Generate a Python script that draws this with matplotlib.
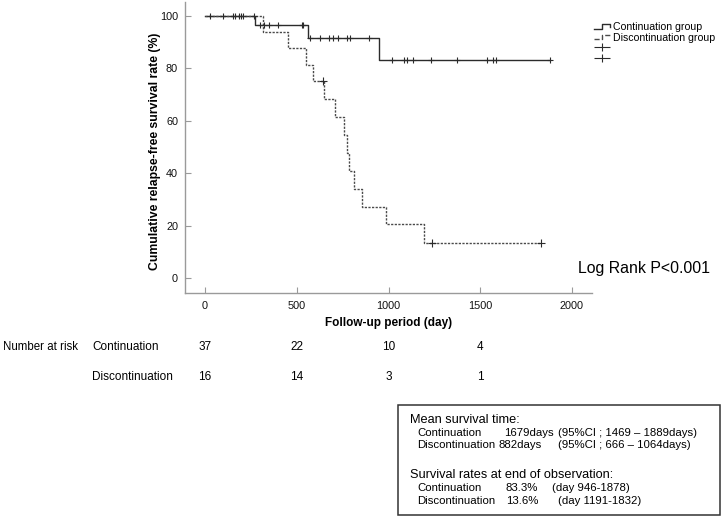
import numpy as np
import matplotlib
matplotlib.use('Agg')
import matplotlib.pyplot as plt
from matplotlib.lines import Line2D
from matplotlib.path import Path
from matplotlib.patches import Rectangle
from matplotlib.legend_handler import HandlerLine2D
from matplotlib.transforms import blended_transform_factory

plt.rcParams['font.family'] = ['Liberation Sans', 'DejaVu Sans']

# Kaplan-Meier steps (day, survival %)
contDays = [0, 274, 560, 946, 1878]
contSurv = [100, 96.6, 91.6, 83.3, 83.3]
discDays = [0, 318, 454, 549, 590, 650, 708, 760, 772, 787, 812, 857, 986, 1191, 1832]
discSurv = [100, 93.8, 87.5, 81.3, 75.0, 68.2, 61.4, 54.5, 47.7, 40.9, 34.1, 27.3, 20.5, 13.6, 13.6]

# censored observations (day)
contCensor = [27, 96, 154, 163, 187, 196, 209, 267, 300, 322, 350, 400, 527, 536,
              572, 627, 677, 696, 723, 772, 790, 895, 1017, 1084, 1103, 1135, 1232,
              1372, 1538, 1571, 1586, 1878]
discCensor = [645, 1235, 1832]

# number at risk table
riskDays = [0, 500, 1000, 1500]
riskCont = [37, 22, 10, 4]
riskDisc = [16, 14, 3, 1]

W, H = 722, 518


def fp(x, y):
    # figure pixel -> figure fraction
    return x / W, 1 - y / H


def levelAt(days, surv, t):
    idx = np.searchsorted(days, t, side='right') - 1
    return np.array(surv)[idx]


class StepHandler(HandlerLine2D):
    def create_artists(self, legend, orig_handle, xdescent, ydescent,
                       width, height, fontsize, trans):
        x0 = -xdescent
        y0 = -ydescent
        xs = [x0, x0 + 0.5 * width, x0 + 0.5 * width, x0 + width, x0 + width]
        ys = [y0 + 0.2 * height, y0 + 0.2 * height, y0 + 0.75 * height,
              y0 + 0.75 * height, y0 + 0.45 * height]
        line = Line2D(xs, ys, color=orig_handle.get_color(),
                      linestyle=orig_handle.get_linestyle(),
                      linewidth=orig_handle.get_linewidth())
        line.set_transform(trans)
        return [line]


# wide flat cross used in the legend
wideCross = Path([(-1, 0), (1, 0), (0, -0.5), (0, 0.5)],
                 [Path.MOVETO, Path.LINETO, Path.MOVETO, Path.LINETO])

fig = plt.figure(figsize=(W / 100, H / 100), dpi=100)
ax = fig.add_axes([185 / W, 1 - 293 / H, 407 / W, 291 / H])

contColor = '#2b2b2b'
discColor = '#4a4a4a'
dotted = (0, (1.6, 1.0))

lc, = ax.step(contDays, contSurv, where='post', color=contColor, lw=1.0)
ld, = ax.step(discDays, discSurv, where='post', color=discColor, lw=1.0, linestyle=dotted)
ax.plot(contCensor, levelAt(contDays, contSurv, contCensor), ls='none', marker='+',
        ms=5, mew=0.8, color=contColor)
ax.plot(discCensor, levelAt(discDays, discSurv, discCensor), ls='none', marker='+',
        ms=5.5, mew=0.8, color=contColor)

ax.set_xlim(-109, 2109)
ax.set_ylim(-5.6, 105.2)
ax.set_xticks([0, 500, 1000, 1500, 2000])
ax.set_yticks([0, 20, 40, 60, 80, 100])
for side in ['top', 'right']:
    ax.spines[side].set_visible(False)
for side in ['left', 'bottom']:
    ax.spines[side].set_color('#9a9a9a')
    ax.spines[side].set_linewidth(1.0)
ax.tick_params(direction='in', length=4, width=0.8, color='#9a9a9a',
               labelsize=7.8, labelcolor='#111111')
ax.tick_params(axis='x', pad=6)
ax.tick_params(axis='y', pad=5)

ax.set_ylabel('Cumulative relapse-free survival rate (%)', fontsize=8.8, fontweight='bold')
ax.yaxis.set_label_coords(-0.059, 0.488)
ax.set_xlabel('Follow-up period (day)', fontsize=8.5, fontweight='bold')
ax.xaxis.set_label_coords(0.501, -0.082)

# legend
crossA = Line2D([], [], ls='none', marker=wideCross, ms=11.5, mew=0.8, color=contColor)
crossB = Line2D([], [], ls='none', marker=wideCross, ms=11.5, mew=0.8, color=contColor)
fig.legend([lc, ld, crossA, crossB],
           ['Continuation group', 'Discontinuation group', '', ''],
           handler_map={lc: StepHandler(), ld: StepHandler()},
           loc='upper left', bbox_to_anchor=fp(594, 22), frameon=False,
           fontsize=7.6, borderpad=0, borderaxespad=0, handlelength=1.5,
           handletextpad=0.3, labelspacing=0.05)

fig.text(*fp(578, 268), 'Log Rank P<0.001', fontsize=11.4, ha='left', va='center')

# number at risk
tr = blended_transform_factory(ax.transData, fig.transFigure)
fig.text(*fp(3, 347), 'Number at risk', fontsize=8.3, ha='left', va='center')
fig.text(*fp(92, 347), 'Continuation', fontsize=8.5, ha='left', va='center')
fig.text(*fp(92, 377), 'Discontinuation', fontsize=8.5, ha='left', va='center')
for d, c, s in zip(riskDays, riskCont, riskDisc):
    ax.text(d, 1 - 347 / H, str(c), transform=tr, fontsize=8.5, ha='center', va='center')
    ax.text(d, 1 - 377 / H, str(s), transform=tr, fontsize=8.5, ha='center', va='center')

# summary box
box = Rectangle(fp(398, 515), 322 / W, 110 / H, transform=fig.transFigure,
                fill=False, edgecolor='#333333', lw=1.1)
fig.add_artist(box)
boxHeads = [(420, 'Mean survival time:'), (475, 'Survival rates at end of observation:')]
boxRows = [
    (432.7, [(417, 'Continuation'), (504, '1679days'), (558, '(95%CI ; 1469 \u2013 1889days)')]),
    (445, [(417, 'Discontinuation'), (499, '882days'), (558, '(95%CI ; 666 \u2013 1064days)')]),
    (488, [(417, 'Continuation'), (506, '83.3%'), (552, '(day 946-1878)')]),
    (501, [(417, 'Discontinuation'), (506, '13.6%'), (558, '(day 1191-1832)')]),
]
for y, s in boxHeads:
    fig.text(*fp(410, y), s, fontsize=9.2, ha='left', va='center')
for y, parts in boxRows:
    for x, s in parts:
        fig.text(*fp(x, y), s, fontsize=8.2, ha='left', va='center')

fig.savefig('out.png', dpi=100)
